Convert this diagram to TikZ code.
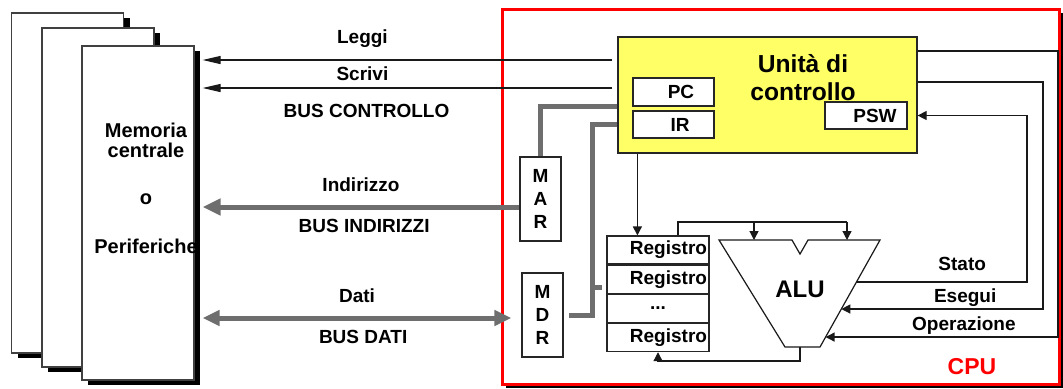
\documentclass[tikz,border=0pt]{standalone}
\usepackage{fontspec}
\setmainfont{Liberation Sans}
\usepackage{xcolor}
\usepackage{tikz}
\usetikzlibrary{arrows.meta, positioning, calc, shadows}
\definecolor{busgray}{HTML}{6E6E6E}
\definecolor{cuyellow}{HTML}{FFFF66}
\definecolor{cpured}{HTML}{FF0000}

\begin{document}
\begin{tikzpicture}[x=0.5pt, y=-0.5pt,
    every node/.style={font=\fontsize{9.5}{11.5}\selectfont\bfseries},
    sheet/.style={draw=black!75, line width=0.6pt, fill=white, minimum width=56pt,
                  drop shadow={shadow xshift=3pt, shadow yshift=-2.5pt, fill=black, opacity=1}},
    cell/.style={draw=black!85, line width=0.6pt, fill=white, inner sep=0pt},
    regrow/.style={cell, minimum height=14pt, text width=49pt, align=right, inner xsep=1pt},
    bus/.style={line width=2.5pt, busgray},
    wire/.style={line width=0.6pt, black!90},
    ctrl/.style={wire, -{Triangle[length=9pt, width=4pt]}},
    busarrow/.style={bus, -{Triangle[length=9pt, width=8pt]}},
    wirearrow/.style={wire, -{Triangle[length=4.5pt, width=4.5pt]}},
    lbl/.style={anchor=base, text=black}
  ]
    \useasboundingbox (0,0) rectangle (1063,388);

    % CPU frame
    \node[draw=cpured, line width=1.5pt, fill=white, minimum width=278.5pt, minimum height=187.5pt,
          drop shadow={shadow xshift=1.75pt, shadow yshift=-1.75pt, fill=black, opacity=1}]
          (cpu) at (780.5,196.5) {};
    \node[font=\fontsize{11.5}{13}\selectfont\bfseries, text=cpured] (cpulabel) at (972,366.5) {CPU};

    % Memory sheets
    \node[sheet, minimum height=170pt] (mem3) at (67.5,183) {};
    \node[sheet, minimum height=169.5pt] (mem2) at (98,197.5) {};
    \node[sheet, minimum height=167pt] (mem) at (138,213) {};
    \node[anchor=north, inner sep=0pt, align=center, font=\fontsize{10}{10}\selectfont\bfseries]
          (memtext) at (146,123) {Memoria\\centrale\\[13.5pt]o\\[14.5pt]Periferiche};

    % Control unit
    \node[draw=black!85, line width=0.6pt, fill=cuyellow, minimum width=149.5pt, minimum height=58pt]
          (ucbox) at (767.5,95) {};
    \node[anchor=north, inner sep=0pt, align=center, font=\fontsize{12.3}{14}\selectfont\bfseries]
          (ucname) at (803,54) {Unità di\\controllo};
    \node[cell, minimum width=40.5pt, minimum height=14pt] (pc) at (673.5,92) {\hspace*{7.5pt}PC};
    \node[cell, minimum width=40.5pt, minimum height=13.5pt] (ir) at (673.5,124.5) {\hspace*{6.5pt}IR};
    \node[cell, minimum width=41pt, minimum height=13.5pt] (psw) at (866,115.5) {\hspace*{9pt}PSW};

    % MAR, MDR
    \node[cell, minimum width=20.5pt, minimum height=42pt, align=center] (mar) at (540.5,199) {M\\A\\R};
    \node[cell, minimum width=20.5pt, minimum height=42pt, align=center] (mdr) at (542.5,315) {M\\D\\R};

    % Registers
    \node[regrow] (reg1) at (658,250) {Registro};
    \node[regrow, below=0pt of reg1] (reg2) {Registro};
    \node[regrow, below=0pt of reg2, align=center] (reg3) {...};
    \node[regrow, below=0pt of reg3] (reg4) {Registro};

    % ALU
    \draw[wire, fill=white] (719,240) coordinate (aluL) -- (792,240) -- (800,254) -- (808,240)
          -- (880,240) coordinate (aluR) -- (820,347) coordinate (aluBR)
          -- (785,347) coordinate (aluBL) -- cycle;
    \node[font=\fontsize{12}{14}\selectfont\bfseries] (alu) at (800,289) {ALU};
    \coordinate (aluIn1) at (754,240);
    \coordinate (aluIn2) at (847,240);
    \coordinate (aluOut) at (800,347);
    \coordinate (aluS) at ($(aluR)!0.393!(aluBR)$);
    \coordinate (aluE) at ($(aluR)!0.645!(aluBR)$);
    \coordinate (aluO) at ($(aluR)!0.907!(aluBR)$);

    % Bus controllo
    \draw[ctrl] ($(ucbox.west |- 0,60)+(-5,0)$) -- ($(mem.east |- 0,60)+(8,0)$)
          node[lbl, pos=0.61, yshift=8.5pt] {Leggi};
    \draw[ctrl] ($(ucbox.west |- 0,88)+(-5,0)$) -- ($(mem.east |- 0,88)+(8,0)$)
          node[lbl, pos=0.61, yshift=4pt] {Scrivi}
          node[lbl, pos=0.6, yshift=-14.5pt] {BUS CONTROLLO};

    % Bus indirizzi
    \draw[busarrow] (mar.west |- 0,207) -- ($(mem.east |- 0,207)+(8,0)$)
          node[lbl, pos=0.5, yshift=8pt] {Indirizzo}
          node[lbl, pos=0.49, yshift=-12.5pt] {BUS INDIRIZZI};

    % Bus dati
    \draw[bus, {Triangle[length=8.5pt, width=7.5pt]}-{Triangle[length=8.5pt, width=7.5pt]}]
          ($(mem.east |- 0,318)+(8,0)$) -- ($(mdr.west |- 0,318)+(-10,0)$)
          node[lbl, pos=0.5, yshift=8pt] {Dati}
          node[lbl, pos=0.52, yshift=-12.5pt] {BUS DATI};

    % Internal buses
    \draw[bus] (ucbox.west |- pc.south) -| (mar.north);
    \draw[bus] (ucbox.west |- ir) -- ++(-25,0) coordinate (irdrop) |- ([xshift=2.5pt]mdr.east);
    \draw[bus] (irdrop |- 0,287) -- ($(reg2.west |- 0,287)+(-4,0)$);

    % Data path
    \draw[wirearrow] ([xshift=10pt]ucbox.south west) coordinate (ucdown) -- (ucdown |- reg1.north);
    \draw[wire] ([xshift=10pt]reg1.north) |- (aluIn2 |- 0,222);
    \draw[wirearrow] (aluIn1 |- 0,222) -- (aluIn1);
    \draw[wirearrow] (aluIn2 |- 0,222) -- (aluIn2);
    \draw[wirearrow] (aluOut) -- ++(0,14) -| (reg4.south);

    % Stato, Esegui, Operazione
    \draw[wirearrow] (aluS) -- (aluS -| 1027,0) node[lbl, pos=0.62, yshift=6pt] {Stato}
          |- (ucbox.east |- psw);
    \draw[wirearrow] (ucbox.east |- 0,82) -| (aluE -| 1043,0) -- (aluE)
          node[lbl, pos=0.386, yshift=3.5pt] {Esegui};
    \draw[wirearrow] (ucbox.east |- 0,51) -| (aluO -| 1058,0) -- (aluO)
          node[lbl, pos=0.405, yshift=3.5pt] {Operazione};
  \end{tikzpicture}
\end{document}
